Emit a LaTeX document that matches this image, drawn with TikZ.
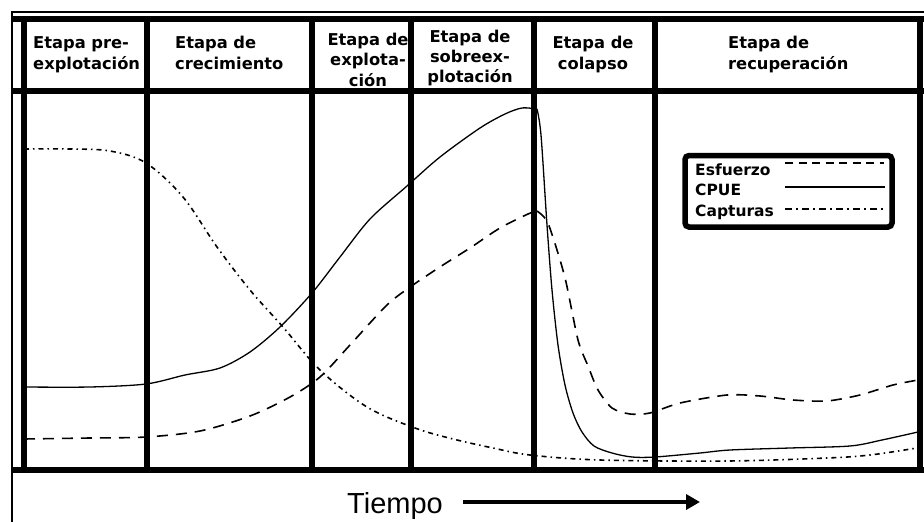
\documentclass[tikz,border=0pt]{standalone}
\usepackage{fontspec}
\setmainfont{DejaVu Sans}
\newfontfamily\tiempofont{Liberation Sans}
\usetikzlibrary{arrows.meta}
\begin{document}
\begin{tikzpicture}[x=1pt,y=-1pt,
  frame/.style={line width=6pt},
  thinframe/.style={line width=1.5pt},
  hdr/.style={font=\fontsize{16.3}{20}\selectfont\bfseries, anchor=base, inner sep=0pt},
  hdrl/.style={font=\fontsize{16.3}{20}\selectfont\bfseries, anchor=base west, inner sep=0pt},
  leg/.style={font=\fontsize{15.5}{20}\selectfont\bfseries, anchor=base west, inner sep=0pt},
  cpue/.style={line width=1.3pt},
  esf/.style={line width=1.6pt, dash pattern=on 11pt off 8pt},
  captur/.style={line width=1.6pt, dash pattern=on 5pt off 4pt on 1.5pt off 4pt},
  legesf/.style={line width=1.6pt, dash pattern=on 8pt off 5.5pt},
  legcap/.style={line width=1.6pt, dash pattern=on 7pt off 4pt on 2pt off 4pt},
]
\useasboundingbox (0,0) rectangle (924,522);
\fill[white] (0,0) rectangle (924,522);

% curves
\draw[captur] plot[smooth, tension=0.55] coordinates {(24,149) (70,149) (110,151) (146,163) (183,197) (217,247) (250,290) (283,327) (320,370) (367,407) (415,428) (453,439) (493,448) (530,455) (600,460) (727,461) (827,458) (870,455) (917,448)};

\draw[esf] plot[smooth, tension=0.5] coordinates {(24,439) (90,438) (146,437) (200,431) (250,416) (290,397) (320,377) (350,345) (387,305) (413,285) (443,265) (470,248) (500,228) (528,214) (537,211)};
\draw[esf] plot[smooth, tension=0.45] coordinates {(537,211) (547,221) (557,250) (566,282) (578,340) (588,366) (598,390) (612,408) (630,414) (650,413) (680,403) (727,395) (760,396) (793,400) (827,401) (860,395) (893,385) (918,380)};

\draw[cpue] plot[smooth, tension=0.5] coordinates {(24,387) (90,387) (146,384) (185,375) (220,368) (250,352) (280,327) (312,293) (340,257) (370,219) (407,186) (440,157) (480,128) (505,114) (522,108) (537,109)};
\draw[cpue] plot[smooth, tension=0.5] coordinates {(537,109) (541,135) (547,225) (552,290) (558,345) (565,385) (573,413) (582,432) (594,446) (612,453) (632,457) (655,457) (700,453) (730,450) (790,448) (850,446) (882,440) (918,432)};

% frame
\draw[thinframe] (12,522) -- (12,12) -- (924,12);
\draw[frame] (12,19) -- (924,19);
\draw[frame] (12,91) -- (924,91);
\draw[frame] (12,470) -- (924,470);
\foreach \xx in {24,147,312,411,534,655,920} {
  \draw[frame] (\xx,16) -- (\xx,473);
}

% headers
\node[hdrl] (h1a) at (33,48) {Etapa pre-};
\node[hdrl] (h1b) at (33,69) {explotación};
\node[hdrl] (h2a) at (175,48) {Etapa de};
\node[hdrl] (h2b) at (175,69) {crecimiento};
\node[hdr] (h3a) at (368,45) {Etapa de};
\node[hdr] (h3b) at (368,65.5) {explota-};
\node[hdr] (h3c) at (368,86) {ción};
\node[hdr] (h4a) at (470,42) {Etapa de};
\node[hdr] (h4b) at (470,62) {sobreex-};
\node[hdr] (h4c) at (470,82) {plotación};
\node[hdr] (h5a) at (593,48) {Etapa de};
\node[hdr] (h5b) at (593,69) {colapso};
\node[hdrl] (h6a) at (728,48) {Etapa de};
\node[hdrl] (h6b) at (728,69) {recuperación};

% legend
\draw[line width=5.5pt, rounded corners=4pt, fill=white] (685,155.5) rectangle (892,227);
\node[leg] (l1) at (695,175) {Esfuerzo};
\node[leg] (l2) at (695,195) {CPUE};
\node[leg] (l3) at (695,216) {Capturas};
\coordinate (e1a) at (785,163); \coordinate (e1b) at (884,163);
\coordinate (e2a) at (785,187); \coordinate (e2b) at (885,187);
\coordinate (e3a) at (785,209); \coordinate (e3b) at (885,209);
\draw[legesf] (e1a) -- (e1b);
\draw[cpue, line width=1.6pt] (e2a) -- (e2b);
\draw[legcap] (e3a) -- (e3b);

% time axis
\node[font=\tiempofont\fontsize{29}{32}\selectfont, anchor=base, inner sep=0pt] (tiempo) at (395,513) {Tiempo};
\coordinate (ta) at (463,502);
\coordinate (tb) at (700,502);
\draw[line width=4pt, -{Triangle[length=14pt, width=15pt]}] (ta) -- (tb);
\end{tikzpicture}
\end{document}
